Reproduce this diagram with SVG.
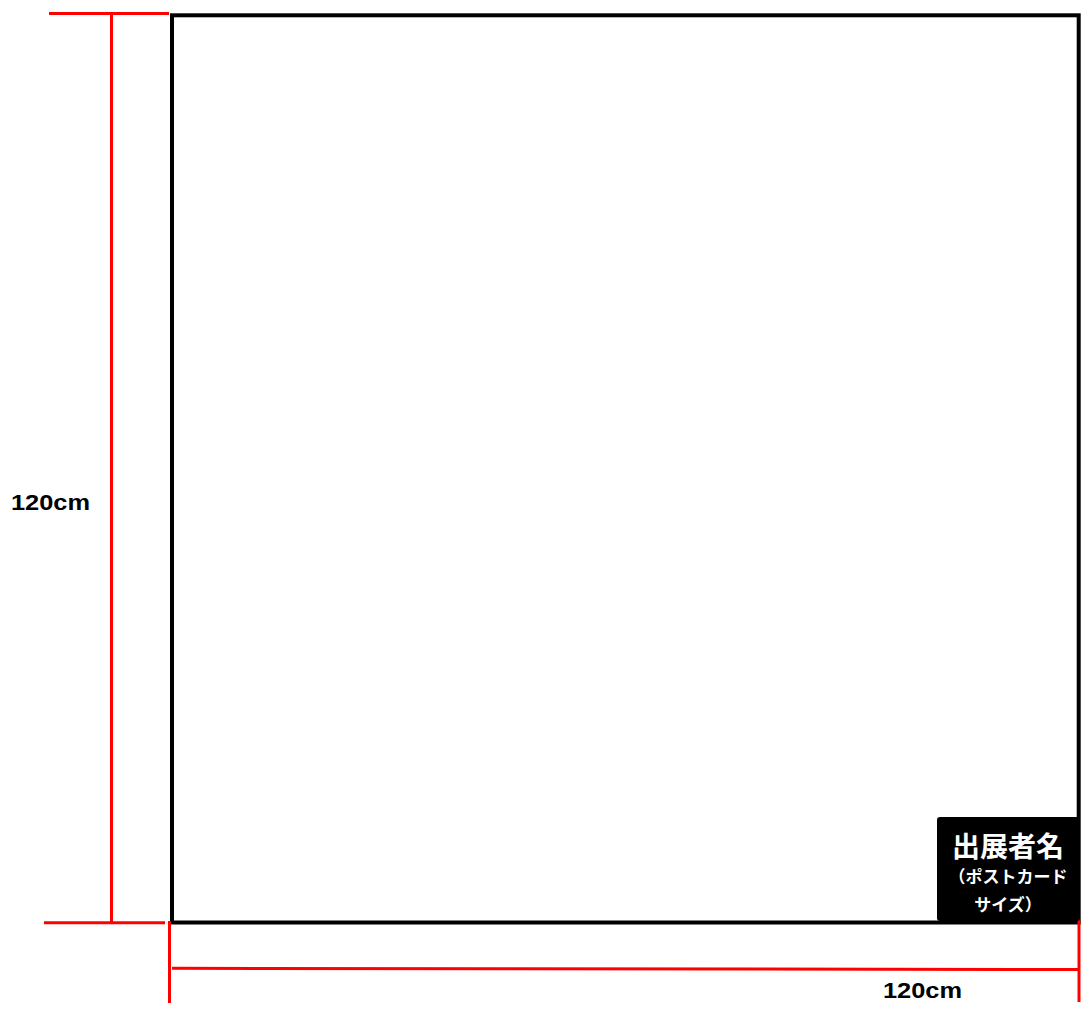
<svg xmlns="http://www.w3.org/2000/svg" width="1081" height="1010" viewBox="0 0 1081 1010">
<style>
.red{stroke:#ff0000;stroke-width:3;fill:none}
.dim{font-family:"Liberation Sans",Arial,sans-serif;font-weight:bold;font-size:22px;fill:#000}
.lab{font-family:"Noto Sans CJK JP","Noto Sans",sans-serif;font-weight:bold;fill:#fff;text-anchor:middle}
</style>
<rect width="1081" height="1010" fill="#fff"/>
<g id="board">
<rect x="172" y="15.3" width="906.7" height="907.2" fill="none" stroke="#000" stroke-width="4"/>
</g>
<g id="connectors">
<line class="red" x1="49" y1="13.5" x2="169" y2="13.5"/>
<line class="red" x1="111.5" y1="14" x2="111.5" y2="922.5"/>
<line class="red" x1="44" y1="922.7" x2="165" y2="922.7"/>
<line class="red" x1="169.5" y1="921" x2="169.5" y2="1003"/>
<line class="red" x1="1079" y1="919" x2="1079" y2="1002"/>
<line class="red" x1="172" y1="968.3" x2="1078" y2="969.5"/>
</g>
<g id="label-v">
<text class="dim" x="11" y="510" textLength="79" lengthAdjust="spacingAndGlyphs">120cm</text>
</g>
<g id="label-h">
<text class="dim" x="883" y="998" textLength="79" lengthAdjust="spacingAndGlyphs">120cm</text>
</g>
<g id="name-card">
<rect x="937" y="817" width="143" height="104" rx="3" fill="#000"/>
<text class="lab" x="1008" y="857" font-size="28">出展者名</text>
<text class="lab" x="1008" y="883" font-size="17">（ポストカード</text>
<text class="lab" x="1008" y="911" font-size="17">サイズ）</text>
</g>
</svg>
